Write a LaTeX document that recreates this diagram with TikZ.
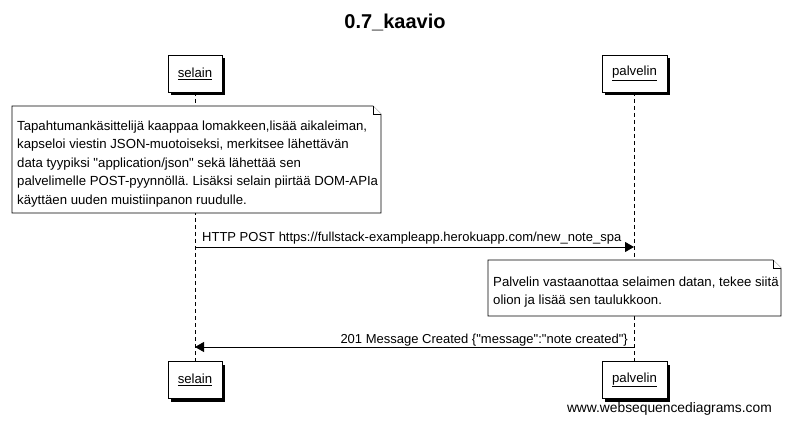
\documentclass[tikz,border=0pt]{standalone}
\usepackage{fontspec}
\setmainfont{Liberation Sans}
\usetikzlibrary{arrows.meta,shadows}
\frenchspacing
\begin{document}
\begin{tikzpicture}[x=1pt,y=-1pt,
		actor/.style={draw,fill=white,line width=0.8pt,minimum width=54pt,minimum height=37pt,inner sep=0pt,
			drop shadow={shadow xshift=3pt,shadow yshift=-3pt,opacity=1,fill=black},font=\fontsize{13.2}{15}\selectfont},
		notetext/.style={inner sep=0pt,align=left,anchor=west,font=\fontsize{13.2}{18.5}\selectfont},
		notefold/.style={draw,fill=white,line width=0.6pt},
		lifeline/.style={line width=0.8pt,dash pattern=on 4pt off 3pt},
		msg/.style={line width=0.8pt,-{Triangle[length=9pt,width=10pt]}},
		msgtext/.style={font=\fontsize{13}{15}\selectfont,inner sep=0pt}]
	%Page
	\useasboundingbox (0,0) rectangle (790,422);
	%Title
	\node [font=\fontsize{20}{24}\selectfont\bfseries] (title) at (395,22) {0.7\_kaavio};
	%Lifelines
	\coordinate (selainTop) at (195,92);
	\coordinate (selainBottom) at (195,362);
	\coordinate (palvelinTop) at (634,92);
	\coordinate (palvelinBottom) at (634,362);
	\draw [lifeline] (selainTop) -- (selainBottom);
	\draw [lifeline] (palvelinTop) -- (palvelinBottom);
	%Actor boxes at the top
	\node [actor] (selain) at (195,73.5) {\underline{selain}};
	\node [actor,minimum width=65pt] (palvelin) at (634.5,73.5) {\underline{palvelin}};
	%Actor boxes at the bottom
	\node [actor] (selainEnd) at (195,380) {\underline{selain}};
	\node [actor,minimum width=65pt] (palvelinEnd) at (634.5,380) {\underline{palvelin}};
	%Note on selain
	\coordinate (n1nw) at (12,106);
	\coordinate (n1fa) at (373,106);
	\coordinate (n1fb) at (381,114);
	\coordinate (n1fc) at (373,114);
	\coordinate (n1se) at (381,213);
	\coordinate (n1sw) at (12,213);
	\draw [notefold] (n1nw) -- (n1fa) -- (n1fb) -- (n1se) -- (n1sw) -- cycle;
	\draw [notefold] (n1fa) -- (n1fc) -- (n1fb);
	\node [notetext] (note1) at (17,164)
		{Tapahtumankäsittelijä kaappaa lomakkeen,lisää aikaleiman,\\
		kapseloi viestin JSON-muotoiseksi, merkitsee lähettävän\\
		data tyypiksi \textquotedbl application/json\textquotedbl{} sekä lähettää sen\\
		palvelimelle POST-pyynnöllä. Lisäksi selain piirtää DOM-APIa\\
		käyttäen uuden muistiinpanon ruudulle.};
	%Request
	\coordinate (req0) at (195,247);
	\coordinate (req1) at (634,247);
	\draw [msg] (req0) -- (req1);
	\node [msgtext,anchor=base west] (reqLabel) at (202,242) {HTTP POST https://fullstack-exampleapp.herokuapp.com/new\_note\_spa};
	%Note on palvelin
	\coordinate (n2nw) at (488,260);
	\coordinate (n2fa) at (773,260);
	\coordinate (n2fb) at (781,268);
	\coordinate (n2fc) at (773,268);
	\coordinate (n2se) at (781,316);
	\coordinate (n2sw) at (488,316);
	\draw [notefold] (n2nw) -- (n2fa) -- (n2fb) -- (n2se) -- (n2sw) -- cycle;
	\draw [notefold] (n2fa) -- (n2fc) -- (n2fb);
	\node [notetext] (note2) at (493,292)
		{Palvelin vastaanottaa selaimen datan, tekee siitä\\
		olion ja lisää sen taulukkoon.};
	%Response
	\coordinate (res0) at (634,347);
	\coordinate (res1) at (195,347);
	\draw [msg] (res0) -- (res1);
	\node [msgtext,anchor=base east] (resLabel) at (628,343) {201 Message Created \{\textquotedbl message\textquotedbl:\textquotedbl note created\textquotedbl\}};
	%Footer
	\node [msgtext,font=\fontsize{13.8}{15}\selectfont,anchor=base east] (footer) at (772,412) {www.websequencediagrams.com};
\end{tikzpicture}
\end{document}
